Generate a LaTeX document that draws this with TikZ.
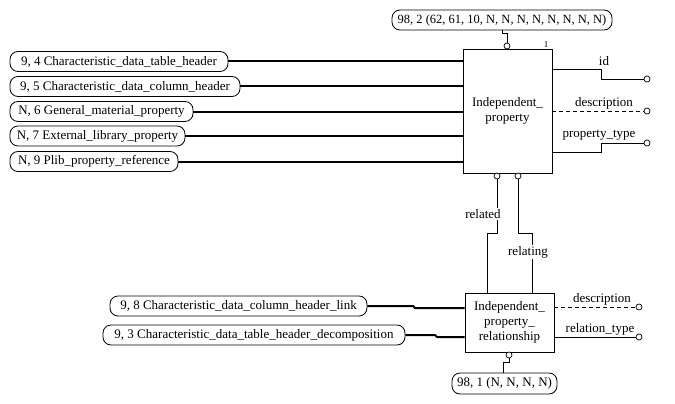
\documentclass[tikz,border=0pt]{standalone}
\usepackage{fontspec}
\setmainfont{Liberation Serif}
\begin{document}
\begin{tikzpicture}[x=1pt,y=-1pt,
  every node/.style={font=\fontsize{13}{15}\selectfont},
  pill/.style={draw, rounded corners=8pt, minimum height=20pt, inner sep=0pt, line width=0.8pt},
  ent/.style={draw, line width=0.8pt, align=center, inner sep=0pt},
  port/.style={draw, circle, fill=white, inner sep=0pt, minimum size=6pt, line width=0.7pt},
  thin/.style={line width=0.8pt},
  thk/.style={line width=2pt},
  lbl/.style={inner sep=1pt}]
\useasboundingbox[fill=white] (0,0) rectangle (675,404);
% entities
\node[ent, minimum width=89pt, minimum height=124pt] (ip) at (507.5,111) {Independent\_\\property};
\node[ent, minimum width=89pt, minimum height=59pt] (ipr) at (509.5,322.5) {Independent\_\\property\_\\relationship};
% left pills
\node[pill, minimum width=218pt] (a) at (119,61.5) {9, 4 Characteristic\_data\_table\_header};
\node[pill, minimum width=230pt] (b) at (125,86.5) {9, 5 Characteristic\_data\_column\_header};
\node[pill, minimum width=183pt] (c) at (101.5,111.5) {N, 6 General\_material\_property};
\node[pill, minimum width=175pt] (d) at (97.5,136) {N, 7 External\_library\_property};
\node[pill, minimum width=168pt] (e) at (94,161.5) {N, 9 Plib\_property\_reference};
\foreach \n in {a,b,c,d,e} \draw[thk] (\n.east) -- (\n.east -| ip.west);
% top pill
\node[pill, minimum width=220pt] (top) at (502,20) {\fontsize{12.5}{14}\selectfont 98, 2 (62, 61, 10, N, N, N, N, N, N, N, N)};
\node[port] (ptop) at (507,46) {};
\draw[thin] (top.south) -- (502,33) -- (507,33) -- (ptop.north);
\node[lbl, font=\fontsize{9}{10}\selectfont] (one) at (546,45) {1};
% right attributes of ip
\node[port] (pid) at (647,79) {};
\node[port] (pdesc) at (647,111) {};
\node[port] (ptype) at (647,143) {};
\coordinate (s1) at (552,69);
\coordinate (s3) at (552,152);
\draw[thin] (s1) -- (601,69) -- (601,79) -- (pid.west);
\draw[thin, dashed, dash pattern=on 4pt off 3pt] (ip.east) -- (pdesc.west);
\draw[thin] (s3) -- (601,152) -- (601,143) -- (ptype.west);
\node[lbl] (lid) at (604,61) {id};
\node[lbl] (ldesc) at (604,103) {description};
\node[lbl] (ltype) at (599,135) {property\_type};
% related / relating
\node[port] (prel) at (497,176) {};
\node[port] (prlt) at (518,176) {};
\draw[thin] (prel.south) -- (497,233) -- (487,233) -- (487,293);
\draw[thin] (prlt.south) -- (518,233) -- (532,233) -- (532,293);
\node[lbl, fill=white] (lrel) at (483,214) {related};
\node[lbl, fill=white] (lrlt) at (528,252) {relating};
% lower left pills
\node[pill, minimum width=257pt] (f) at (238.5,306) {9, 8 Characteristic\_data\_column\_header\_link};
\node[pill, minimum width=302pt] (g) at (254,335) {9, 3 Characteristic\_data\_table\_header\_decomposition};
\draw[thk] (f.east) -- (413,306) -- (415,308) -- (ipr.west |- 0,308);
\draw[thk] (g.east) -- (435,335) -- (437,337) -- (ipr.west |- 0,337);
% right attributes of ipr
\node[port] (pd2) at (639,307) {};
\node[port] (prt) at (639,337) {};
\draw[thin, dashed, dash pattern=on 4pt off 3pt] (ipr.east |- pd2) -- (pd2.west);
\draw[thin] (ipr.east |- prt) -- (prt.west);
\node[lbl] (ld2) at (602,299) {description};
\node[lbl] (lrt) at (600,329) {relation\_type};
% bottom pill
\node[port] (pbot) at (509,355) {};
\node[pill, minimum width=105pt, minimum height=21pt] (bot) at (504.5,383.5) {98, 1 (N, N, N, N)};
\draw[thin] (pbot.south) -- (509,362) -- (503,362) -- (bot.north -| 503,0);
\end{tikzpicture}
\end{document}
